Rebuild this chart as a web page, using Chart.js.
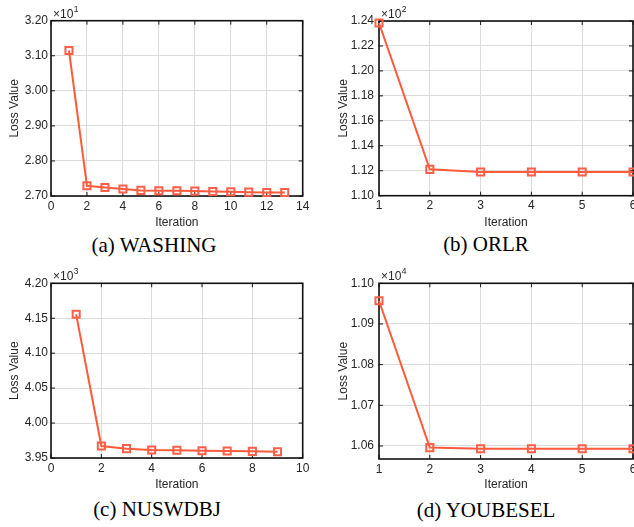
<!DOCTYPE html>
<html><head><meta charset="utf-8">
<script src="https://cdn.jsdelivr.net/npm/chart.js@4/dist/chart.umd.min.js"></script>
<style>
html,body{margin:0;padding:0;width:634px;height:527px;overflow:hidden;background:#fff;position:relative;}
canvas{position:absolute;}
.cap{position:absolute;font-family:"Liberation Serif","Times New Roman",serif;font-size:21px;line-height:21px;white-space:nowrap;color:#000;text-align:center;width:300px;}
</style></head><body>
<canvas id="ca" width="317" height="232" style="left:0px;top:0px"></canvas>
<canvas id="cb" width="330" height="232" style="left:317px;top:0px"></canvas>
<canvas id="cc" width="317" height="232" style="left:0px;top:262px"></canvas>
<canvas id="cd" width="330" height="232" style="left:317px;top:262px"></canvas>
<div class="cap" style="left:4px;top:235px">(a) WASHING</div>
<div class="cap" style="left:336px;top:234px">(b) ORLR</div>
<div class="cap" style="left:7px;top:499px">(c) NUSWDBJ</div>
<div class="cap" style="left:336px;top:500px">(d) YOUBESEL</div>
<script>
// ---- data ----
const washingIter = [1,2,3,4,5,6,7,8,9,10,11,12,13];
const washingLoss = [31.15,27.29,27.24,27.20,27.16,27.15,27.15,27.14,27.13,27.12,27.11,27.10,27.10];
const washingXTicks = [0,2,4,6,8,10,12,14];
const washingYTicks = [27,28,29,30,31,32];
const washingExp = 1;

const orlrIter = [1,2,3,4,5,6];
const orlrLoss = [123.84,112.11,111.90,111.90,111.90,111.90];
const orlrXTicks = [1,2,3,4,5,6];
const orlrYTicks = [110,112,114,116,118,120,122,124];
const orlrExp = 2;

const nusIter = [1,2,3,4,5,6,7,8,9];
const nusLoss = [4155.6,3967.2,3963.4,3961.5,3961.0,3960.5,3960.0,3959.5,3959.0];
const nusXTicks = [0,2,4,6,8,10];
const nusYTicks = [3950,4000,4050,4100,4150,4200];
const nusExp = 3;

const youIter = [1,2,3,4,5,6];
const youLoss = [10957,10596,10593,10593,10593,10593];
const youXTicks = [1,2,3,4,5,6];
const youYTicks = [10600,10700,10800,10900,11000];
const youYMin = 10568;
const youExp = 4;

const FONT = '"Liberation Sans", Arial, sans-serif';
const TXT = '#262626';

const frame = {
  id:'frame',
  beforeDatasetsDraw(chart, args, opts){
    const {ctx, chartArea:a, scales:{x,y}} = chart;
    ctx.save();
    ctx.strokeStyle='#1a1a1a'; ctx.lineWidth=1;
    ctx.beginPath();
    x.ticks.forEach(t=>{const px=x.getPixelForValue(t.value); ctx.moveTo(px,a.bottom); ctx.lineTo(px,a.bottom-4); ctx.moveTo(px,a.top); ctx.lineTo(px,a.top+4);});
    y.ticks.forEach(t=>{const py=y.getPixelForValue(t.value); ctx.moveTo(a.left,py); ctx.lineTo(a.left+4,py); ctx.moveTo(a.right,py); ctx.lineTo(a.right-4,py);});
    ctx.stroke();
    ctx.lineWidth=1.6; ctx.strokeStyle='#111';
    ctx.strokeRect(a.left,a.top,a.right-a.left,a.bottom-a.top);
    ctx.fillStyle=TXT;
    ctx.font='12px '+FONT;
    ctx.textBaseline='alphabetic'; ctx.textAlign='left';
    const base='\u00d710';
    ctx.fillText(base, a.left+2, a.top-3);
    const w=ctx.measureText(base).width;
    ctx.font='8.5px '+FONT;
    ctx.fillText(String(opts.exp), a.left+2+w+0.5, a.top-9);
    ctx.restore();
  }
};

function makeChart(id, iters, loss, xTicks, yTicks, yMin, yMax, exp, g){
  new Chart(document.getElementById(id), {
    type:'line',
    data:{datasets:[{
      data: iters.map((v,i)=>({x:v, y:loss[i]})),
      borderColor:'#ff5a3a', borderWidth:2,
      pointStyle:'rect', pointRadius:5, pointBorderWidth:2,
      pointBorderColor:'#ff5f48', pointBackgroundColor:'rgba(255,255,255,0)',
      tension:0, clip:false
    }]},
    options:{
      responsive:false, animation:false, devicePixelRatio:1,
      layout:{padding:{top:g.top, right:g.right, left:0, bottom:0}},
      plugins:{legend:{display:false}, tooltip:{enabled:false}, frame:{exp:exp}},
      scales:{
        x:{type:'linear', min:xTicks[0], max:xTicks[xTicks.length-1],
          afterBuildTicks:s=>{s.ticks=xTicks.map(v=>({value:v}));},
          afterFit:s=>{s.height=g.xh;},
          grid:{color:'#dcdcdc', lineWidth:1, drawTicks:false},
          border:{display:false},
          ticks:{padding:3, color:TXT, font:{family:FONT,size:12}, maxRotation:0, autoSkip:false, callback:v=>String(v)},
          title:{display:true, text:'Iteration', color:TXT, font:{family:FONT,size:12}, padding:{top:0,bottom:2.3}}
        },
        y:{type:'linear', min:yMin, max:yMax,
          afterBuildTicks:s=>{s.ticks=yTicks.map(v=>({value:v}));},
          afterFit:s=>{s.width=g.yw;},
          grid:{color:'#dcdcdc', lineWidth:1, drawTicks:false},
          border:{display:false},
          ticks:{padding:g.ytp, color:TXT, font:{family:FONT,size:12}, autoSkip:false, callback:v=>(v/Math.pow(10,exp)).toFixed(2)},
          title:{display:true, text:'Loss Value', color:TXT, font:{family:FONT,size:12}, padding:{top:g.ttp,bottom:0}}
        }
      }
    },
    plugins:[frame]
  });
}

makeChart('ca', washingIter, washingLoss, washingXTicks, washingYTicks, 27, 32, washingExp,
  {top:20.7, right:14.3, xh:36, yw:51, ytp:3, ttp:7});
makeChart('cb', orlrIter, orlrLoss, orlrXTicks, orlrYTicks, 110, 124, orlrExp,
  {top:21, right:14, xh:36.3, yw:62, ytp:5, ttp:19});
makeChart('cc', nusIter, nusLoss, nusXTicks, nusYTicks, 3950, 4200, nusExp,
  {top:21.3, right:14.3, xh:36, yw:51, ytp:3, ttp:7});
makeChart('cd', youIter, youLoss, youXTicks, youYTicks, youYMin, 11000, youExp,
  {top:21.3, right:14, xh:35, yw:62, ytp:5, ttp:19});
</script>
</body></html>
